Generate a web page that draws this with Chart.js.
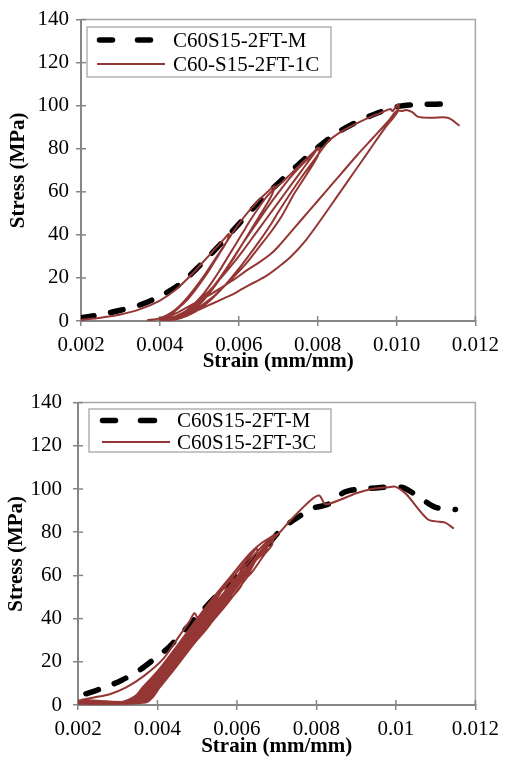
<!DOCTYPE html>
<html>
<head>
<meta charset="utf-8">
<script src="https://cdn.jsdelivr.net/npm/chart.js@4.4.1/dist/chart.umd.min.js"></script>
<style>
html,body{margin:0;padding:0;background:#fff;width:506px;height:758px;overflow:hidden;}
canvas{position:absolute;left:0;}
#c1{top:0;}
#c2{top:379px;}
</style>
</head>
<body>
<canvas id="c1" width="506" height="379"></canvas>
<canvas id="c2" width="506" height="379"></canvas>
<script>
// ---------- data ----------
const xTicks = [0.002, 0.004, 0.006, 0.008, 0.010, 0.012];
const xTickLabelsTop = ["0.002", "0.004", "0.006", "0.008", "0.010", "0.012"];
const xTickLabelsBottom = ["0.002", "0.004", "0.006", "0.008", "0.01", "0.012"];
const yTicks = [0, 20, 40, 60, 80, 100, 120, 140];
const yTickLabels = ["0", "20", "40", "60", "80", "100", "120", "140"];
const xTitle = "Strain (mm/mm)";
const yTitle = "Stress (MPa)";
const seriesTop = ["C60S15-2FT-M", "C60-S15-2FT-1C"];
const seriesBottom = ["C60S15-2FT-M", "C60S15-2FT-3C"];

// top chart: monotonic
const topMStrain = [0.0020,0.0025,0.0030,0.0035,0.0040,0.0045,0.0050,0.0055,0.0060,0.0065,0.0070,0.0075,0.0080,0.0085,0.0090,0.0095,0.0100,0.0105,0.0110,0.0112];
const topMStress = [1.5,3,5,7.5,11.5,17,25.5,35,45,55,64,72.5,80.5,87.5,92.5,96.5,99.5,100.5,100.7,100.8];

// top chart: cyclic 1C
const top1CStrain = [
  0.0020,0.0025,0.0030,0.0035,0.0040,0.0044,0.0048,0.0051,0.0054,0.0056,0.00575,
  0.0057,0.0055,0.0053,0.0051,0.0049,0.0047,0.0045,0.0043,0.0041,0.0039,0.0037,
  0.0039,0.0041,0.0043,0.0045,0.0047,0.0049,0.0051,0.0053,0.0055,0.0057,0.0059,0.0061,0.0063,0.0065,0.0067,0.0069,
  0.00685,0.0067,0.0065,0.0063,0.0061,0.0059,0.0057,0.0055,0.0053,0.0051,0.0049,0.0047,0.0045,0.0043,0.0040,
  0.0043,0.0045,0.0047,0.0049,0.0051,0.0053,0.0055,0.0057,0.0059,0.0061,0.0063,0.0065,0.0067,0.0069,0.0071,0.0073,0.0075,0.0077,0.0079,0.0080,
  0.0079,0.0076,0.0073,0.0070,0.0067,0.0064,0.0061,0.0058,0.0055,0.0052,0.0049,0.0046,0.0043,0.0041,
  0.0043,0.0046,0.0049,0.0052,0.0055,0.0058,0.0061,0.0064,0.0067,0.0070,0.0073,0.0076,0.0079,0.00805,
  0.0080,0.0077,0.0074,0.0071,0.0068,0.0065,0.0062,0.0059,0.0056,0.0053,0.0050,0.0047,0.0044,0.0042,
  0.0044,0.0047,0.0050,0.0053,0.0056,0.0059,0.0062,0.0065,0.0068,0.0070,0.0073,0.0076,0.0079,0.0081,0.0083,0.0086,0.0089,0.0093,0.0097,0.00985,0.0099,0.01005,
  0.01002,0.0097,0.0093,0.0089,0.0085,0.0081,0.0077,0.0073,0.0070,0.0067,0.0064,0.0061,0.0058,0.0055,0.0052,0.0049,0.0046,0.0043,0.0040,
  0.0041,0.0044,0.0047,0.0050,0.0053,0.0056,0.0059,0.0062,0.0065,0.0068,0.0070,0.0074,0.0078,0.0082,0.0086,0.0090,0.0094,0.0098,0.0100,
  0.01015,0.01025,0.0104,0.01055,0.0109,0.0113,0.0116
];
const top1CStress = [
  0.5,1.5,3,5.5,9.5,14.5,21.5,27.5,33.5,37.5,40.5,
  37,31,25,19.5,14.5,10,6.5,3.5,1.8,0.8,0.5,
  0.8,2,4,7,11,15.5,20.5,26,31.5,37,42.5,47.5,52,56,59.5,62.5,
  59,54,48,42,36,30,24.5,19,14,9.5,6,3.5,1.8,0.9,0.5,
  1.2,2.8,5.2,8.5,12.5,17.5,23,29,35,41,47,52.5,57.5,61.5,64.5,68,71.5,75,78.5,80.5,
  77.5,70,62.5,55,47.5,40,32.5,25.5,19,13,8,4,1.5,0.5,
  0.8,3,7,12.5,19.5,27.5,36,44,52,59.5,66.5,72.5,78,80.5,
  76.5,67.5,59,49,41,34,27,21,15.5,10.5,6.5,3.2,1.2,0.5,
  0.7,2.5,5.5,10,15.5,22,29,36.5,44.5,50.5,59,67,74.5,79.5,84,88,91,94.5,97.5,98.5,97.5,100.8,
  97,89.5,79,68.5,58,47.5,37.5,29.5,25,21,18,15,12,9.5,7,4.5,2.5,1,0.5,
  0.8,3.5,6.5,9.5,12.5,16,19.5,23.5,27,31,34.5,43,51.5,60,68.5,77,85,93,97.5,
  97.6,98,97,94.8,94.4,94.4,90.7
];

// bottom chart: monotonic
const botMStrain = [0.0022,0.0027,0.0031,0.0035,0.0039,0.0043,0.0047,0.0051,0.0055,0.0059,0.0063,0.0067,0.0071,0.0075,0.0079,0.0083,0.0087,0.0091,0.0095,0.0099,0.0102,0.0106,0.0110,0.0115];
const botMStress = [5.2,8.3,11.5,15.5,21,27,35,43,51,58.5,66,72.5,81,86.5,91,93,98.5,100,100.5,101,100.5,96,91.5,90.5];

// bottom chart: cyclic 3C
const bot3CStrain = [
  0.0020,0.0024,0.0028,0.0032,0.00366,0.00415,0.00455,0.0048,0.00493,0.0050,0.00505,
  0.0050,0.00486,0.00436,0.0040,0.00385,0.00363,0.0021,
  0.00314,0.0035,0.00369,0.00408,0.00458,0.00499,0.0054,
  0.00535,0.00526,0.00482,0.00432,0.00396,0.0038,0.00356,0.0023,
  0.00321,0.00355,0.00374,0.00412,0.00462,0.00504,0.00545,0.0057,
  0.00568,0.00535,0.0049,0.0044,0.00405,0.0039,0.0037,0.0022,
  0.00307,0.00345,0.00365,0.00404,0.00454,0.00495,0.00535,0.00585,0.0059,
  0.00585,0.00565,0.00522,0.00478,0.00428,0.00392,0.00375,0.00349,0.0020,
  0.00332,0.00363,0.0038,0.00418,0.00468,0.0051,0.00553,0.0060,0.0062,
  0.0062,0.0061,0.00578,0.00533,0.00488,0.00438,0.00403,0.00388,0.00367,0.0024,
  0.00314,0.0035,0.00369,0.00408,0.00458,0.00499,0.0054,0.00589,0.00638,0.0065,
  0.0065,0.00633,0.00618,0.00573,0.00528,0.00484,0.00434,0.00398,0.00383,0.0036,0.0021,
  0.00328,0.0036,0.00378,0.00416,0.00466,0.00508,0.0055,0.00598,0.00646,0.00672,0.0069,
  0.00688,0.0067,0.0064,0.00625,0.0058,0.00535,0.0049,0.0044,0.00405,0.0039,0.0037,0.0025,
  0.00342,0.0037,0.00387,0.00424,0.00474,0.00517,0.0056,0.00607,0.00654,0.0068,
  0.0067,0.00618,0.00605,0.00558,0.00515,0.00472,0.00422,0.00385,0.00368,0.00339,0.0020,
  0.00304,0.00343,0.00362,0.00402,0.00452,0.00492,0.00533,0.00582,0.00632,0.00662,0.0070,
  0.00683,0.0066,0.00628,0.00614,0.00568,0.00524,0.0048,0.0043,0.00394,0.00378,0.00353,0.0023,
  0.00349,0.00375,0.00392,0.00428,0.00478,0.00522,0.00565,0.00612,0.00658,0.00681,0.00708,
  0.00737,0.00787,0.00807,0.0082,0.00827,0.0086,0.0090,0.0094,0.0098,0.0100,0.01025,0.0108,0.0111,0.01124,0.01146
];
const bot3CStress = [
  2,3.5,5,8,13.5,21.5,32,38.5,42.5,40.5,39.5,
  35,28,16,8,4,1.2,1.0,
  1.2,4,8,16,28,38,48.5,
  44,38,28,16,8,4,1.2,0.4,
  1.5,4,8,16,28,38,48,55,
  50,38,28,16,8,4,1.2,2.0,
  1.2,4,8,16,28,38,48,59,60.5,
  56,48,38,28,16,8,4,1.2,0.6,
  1.5,4,8,16,28,38,48,59,65,
  61,55,48,38,28,16,8,4,1.2,1.6,
  1.3,4,8,16,28,38,48,59,70,72.5,
  69,62,59,48,38,28,16,8,4,1.2,2.4,
  1.5,4,8,16,28,38,48,59,70,75,77.5,
  74,70,62,59,48,38,28,16,8,4,1.2,0.5,
  1.5,4,8,16,28,38,48,59,70,75,
  71,62,59,48,38,28,16,8,4,1.2,1.4,
  1.2,4,8,16,28,38,48,59,70,75,79,
  75,70,62,59,48,38,28,16,8,4,1.2,1.0,
  1.5,4,8,16,28,38,48,59,70,75,80,
  86,95,97,93.3,92.9,95,98,100,100.8,101,97.8,86,84.8,84.4,81.7
];

// ---------- helpers ----------
function pts(xs, ys) { return xs.map((x, i) => ({ x: x, y: ys[i] })); }

const AXIS = '#868686';
const RED = '#943634';
const FONT = 'Liberation Serif';

const framePlugin = {
  id: 'frame',
  beforeDatasetsDraw(chart) {
    const { ctx, chartArea: a, scales } = chart;
    ctx.save();
    ctx.strokeStyle = '#a6a6a6';
    ctx.lineWidth = 1.5;
    ctx.beginPath();
    ctx.moveTo(a.left, a.top);
    ctx.lineTo(a.right, a.top);
    ctx.lineTo(a.right, a.bottom);
    ctx.stroke();
    ctx.strokeStyle = AXIS;
    ctx.lineWidth = 1.5;
    scales.x.ticks.forEach(t => {
      const px = scales.x.getPixelForValue(t.value);
      ctx.beginPath(); ctx.moveTo(px, a.bottom); ctx.lineTo(px, a.bottom - 5); ctx.stroke();
    });
    scales.y.ticks.forEach(t => {
      const py = scales.y.getPixelForValue(t.value);
      ctx.beginPath(); ctx.moveTo(a.left, py); ctx.lineTo(a.left + 5, py); ctx.stroke();
    });
    ctx.restore();
  }
};

const boxLegendPlugin = {
  id: 'boxLegend',
  afterDraw(chart, args, o) {
    const ctx = chart.ctx;
    ctx.save();
    ctx.fillStyle = '#fff';
    ctx.fillRect(o.x, o.y, o.w, o.h);
    ctx.strokeStyle = '#a6a6a6';
    ctx.lineWidth = 1.3;
    ctx.strokeRect(o.x, o.y, o.w, o.h);
    chart.data.datasets.forEach((ds, i) => {
      const y = o.rows[i];
      ctx.strokeStyle = ds.borderColor;
      ctx.lineWidth = ds.borderWidth;
      if (ds.borderDash) {
        ctx.lineCap = 'round';
        o.dashes.forEach(d => {
          ctx.beginPath(); ctx.moveTo(d[0], y); ctx.lineTo(d[1], y); ctx.stroke();
        });
      } else {
        ctx.lineCap = 'butt';
        ctx.beginPath(); ctx.moveTo(o.line[0], y); ctx.lineTo(o.line[1], y); ctx.stroke();
      }
      ctx.fillStyle = '#000';
      ctx.font = '21px "' + FONT + '"';
      ctx.textBaseline = 'middle';
      ctx.textAlign = 'left';
      ctx.fillText(ds.label, o.textX, y + 1);
    });
    ctx.restore();
  }
};

function makeChart(id, labels, mS, mY, cS, cY, xLabels, lay) {
  return new Chart(document.getElementById(id), {
    type: 'scatter',
    data: {
      datasets: [
        { label: labels[0], data: pts(mS, mY), showLine: true, borderColor: '#000', backgroundColor: '#000',
          borderWidth: 5.5, borderDash: [13, 17], borderCapStyle: 'round', pointRadius: 0, tension: 0.3, order: 1 },
        { label: labels[1], data: pts(cS, cY), showLine: true, borderColor: RED, backgroundColor: RED,
          borderWidth: 2, borderJoinStyle: 'round', pointRadius: 0, tension: 0.3, order: 0 }
      ]
    },
    options: {
      responsive: false,
      animation: false,
      devicePixelRatio: 1,
      layout: { padding: { left: 0, right: lay.padRight, top: lay.padTop, bottom: 0 } },
      plugins: {
        legend: { display: false },
        tooltip: { enabled: false },
        boxLegend: lay.legend
      },
      scales: {
        x: {
          type: 'linear', min: 0.002, max: 0.012,
          afterBuildTicks: s => { s.ticks = xTicks.map(v => ({ value: v })); },
          afterFit: s => { s.height = lay.xHeight; },
          ticks: { callback: (v, i) => xLabels[i], font: { family: FONT, size: 21 }, color: '#000',
                   padding: 7, maxRotation: 0, autoSkip: false },
          grid: { display: true, drawOnChartArea: false, drawTicks: true, tickLength: 5, color: AXIS, lineWidth: 1.5 },
          border: { display: true, color: AXIS, width: 2 },
          title: { display: true, text: xTitle, color: '#000',
                   font: { family: FONT, size: 21, weight: 'bold', lineHeight: 1 },
                   padding: { top: 0, bottom: lay.xTitlePad } }
        },
        y: {
          type: 'linear', min: 0, max: 140,
          afterBuildTicks: s => { s.ticks = yTicks.map(v => ({ value: v })); },
          afterFit: s => { s.width = lay.yWidth; },
          ticks: { callback: (v, i) => yTickLabels[i], font: { family: FONT, size: 21 }, color: '#000',
                   padding: lay.yTickPad, autoSkip: false },
          grid: { display: true, drawOnChartArea: false, drawTicks: true, tickLength: 5, color: AXIS, lineWidth: 1.5 },
          border: { display: true, color: AXIS, width: 2 },
          title: { display: true, text: yTitle, color: '#000',
                   font: { family: FONT, size: 21, weight: 'bold', lineHeight: 1 },
                   padding: { top: lay.yTitlePad, bottom: 0 } }
        }
      }
    },
    plugins: [framePlugin, boxLegendPlugin]
  });
}

makeChart('c1', seriesTop, topMStrain, topMStress, top1CStrain, top1CStress, xTickLabelsTop, {
  padRight: 26, padTop: 14, xHeight: 58, yWidth: 81, xTitlePad: 6.5, yTitlePad: 8, yTickPad: 7,
  legend: { x: 87, y: 27, w: 244, h: 50, rows: [40, 64], dashes: [[99.5, 112.5], [137.5, 150.5]], line: [97, 165], textX: 173 }
});
makeChart('c2', seriesBottom, botMStrain, botMStress, bot3CStrain, bot3CStress, xTickLabelsBottom, {
  padRight: 25, padTop: 14, xHeight: 53, yWidth: 78, xTitlePad: 0.5, yTitlePad: 6.5, yTickPad: 11,
  legend: { x: 89, y: 30, w: 242, h: 43, rows: [41.5, 63], dashes: [[102.5, 115.5], [140.5, 154.5]], line: [102, 170], textX: 177 }
});
</script>
</body>
</html>
